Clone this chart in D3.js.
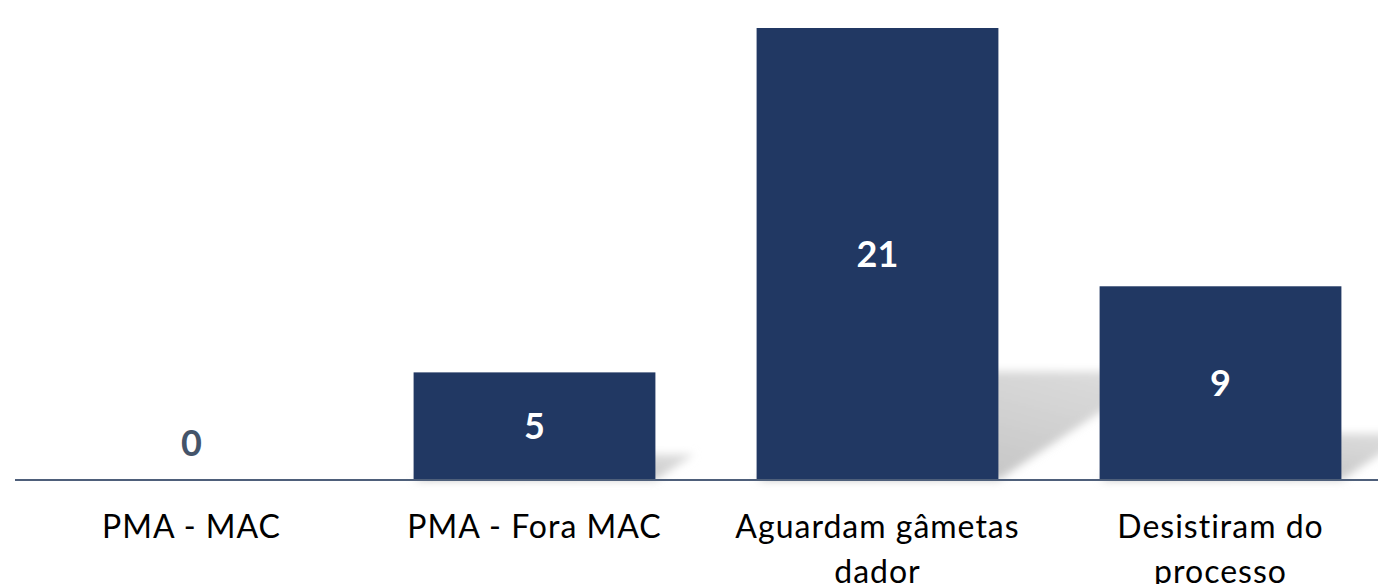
<!DOCTYPE html>
<html>
<head>
<meta charset="utf-8">
<script src="https://cdn.jsdelivr.net/npm/d3@7"></script>
<style>
  body { margin: 0; background: #fff; }
  svg { display: block; }
</style>
</head>
<body>
<div id="chart"></div>
<script>
// data
const categories = ["PMA - MAC", "PMA - Fora MAC", "Aguardam gâmetas\ndador", "Desistiram do\nprocesso"]
const values = [0, 5, 21, 9]

const width = 1378, height = 584
const baseY = 480

const svg = d3.select("#chart")
  .append("svg")
  .attr("width", width)
  .attr("height", height)

const x = d3.scaleBand()
  .domain(categories)
  .range([20, 1392])
  .paddingInner(0.295)
  .paddingOuter(0.1475)

const y = d3.scaleLinear()
  .domain([0, 21])
  .range([baseY, 28])

const data = categories.map((c, i) => ({cat: c, value: values[i]}))

// shadow defs
const defs = svg.append("defs")
defs.append("filter")
  .attr("id", "blur")
  .attr("x", "-20%").attr("y", "-20%")
  .attr("width", "140%").attr("height", "140%")
  .append("feGaussianBlur")
  .attr("stdDeviation", 4)

const grad = defs.append("linearGradient")
  .attr("id", "shadowGrad")
  .attr("x1", 0).attr("y1", 1)
  .attr("x2", 1).attr("y2", 0)
grad.append("stop").attr("offset", "0%").attr("stop-color", "#bcbcbc")
grad.append("stop").attr("offset", "100%").attr("stop-color", "#dedede")

// perspective shadows behind bars
svg.append("g")
  .attr("filter", "url(#blur)")
  .selectAll("polygon")
  .data(data.filter(d => d.value > 0))
  .enter()
  .append("polygon")
    .attr("fill", "url(#shadowGrad)")
    .attr("points", d => {
      const x0 = x(d.cat), x1 = x(d.cat) + x.bandwidth()
      const h = baseY - y(d.value)
      const dx = h * 0.36, dy = h * 0.24
      return [[x0, baseY], [x1, baseY], [x1 + dx, baseY - dy], [x0 + dx, baseY - dy]]
        .map(p => p.join(",")).join(" ")
    })

// bars
svg.append("g")
  .selectAll("rect")
  .data(data)
  .enter()
  .append("rect")
    .attr("x", d => x(d.cat))
    .attr("y", d => y(d.value))
    .attr("width", x.bandwidth())
    .attr("height", d => baseY - y(d.value))
    .attr("fill", "#213863")

// baseline
svg.append("line")
  .attr("x1", 15)
  .attr("x2", width)
  .attr("y1", baseY)
  .attr("y2", baseY)
  .attr("stroke", "#4e5f7a")
  .attr("stroke-width", 2)

// value labels
svg.append("g")
  .selectAll("text")
  .data(data)
  .enter()
  .append("text")
    .attr("x", d => x(d.cat) + x.bandwidth() / 2)
    .attr("y", d => d.value > 0 ? (y(d.value) + baseY) / 2 : baseY - 37)
    .attr("dy", "0.36em")
    .attr("text-anchor", "middle")
    .attr("font-family", "Lato, sans-serif")
    .attr("font-weight", "bold")
    .attr("font-size", 36)
    .attr("fill", d => d.value > 0 ? "#ffffff" : "#44546a")
    .text(d => d.value)

// category labels
const catLabels = svg.append("g")
  .selectAll("text")
  .data(data)
  .enter()
  .append("text")
    .attr("x", d => x(d.cat) + x.bandwidth() / 2)
    .attr("y", 538)
    .attr("text-anchor", "middle")
    .attr("font-family", "Lato, sans-serif")
    .attr("font-size", 32)
    .attr("letter-spacing", 1)
    .attr("fill", "#000")

catLabels.selectAll("tspan")
  .data(d => d.cat.split("\n"))
  .enter()
  .append("tspan")
    .attr("x", function() { return d3.select(this.parentNode).attr("x") })
    .attr("dy", (d, i) => i === 0 ? 0 : 45)
    .text(d => d)
</script>
</body>
</html>
